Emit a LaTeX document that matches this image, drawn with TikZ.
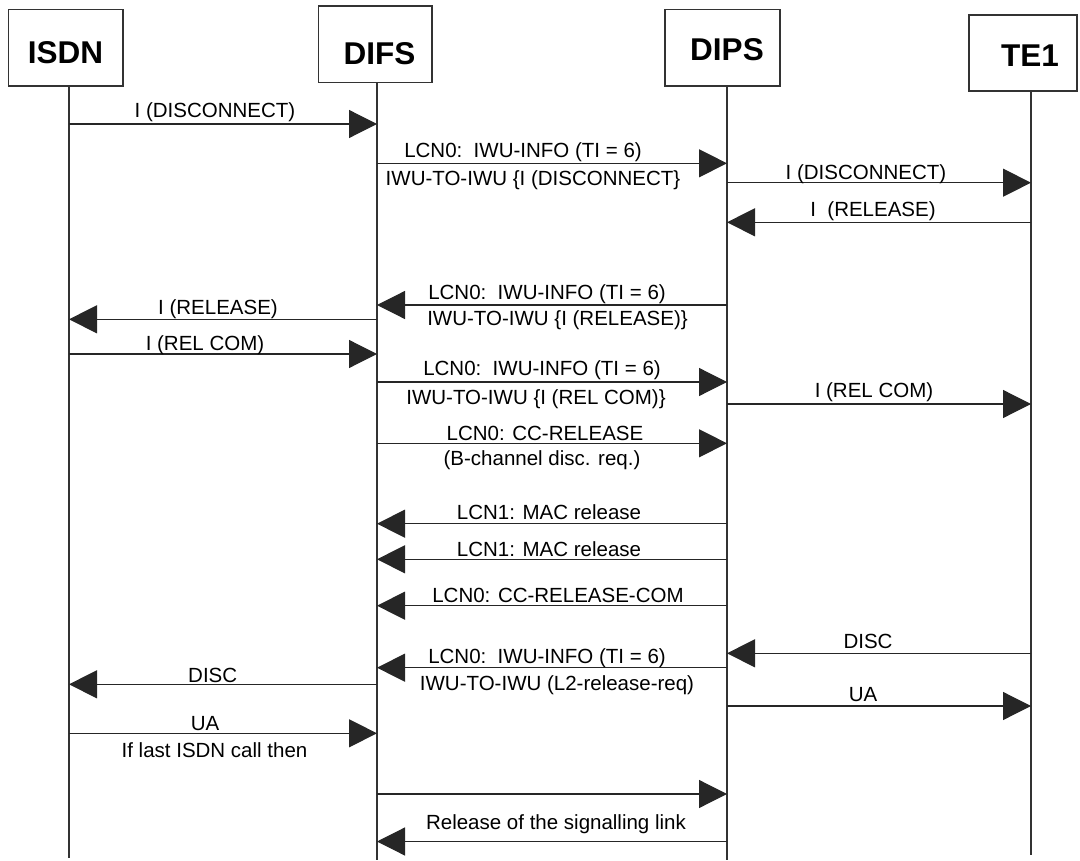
\documentclass[tikz,border=0pt]{standalone}
\usepackage{fontspec}
\setmainfont{Liberation Sans}
\usetikzlibrary{arrows.meta}
\newcommand\mymsg[3]{\draw[msg] (#1 |- 0,#3) -- (#2 |- 0,#3);}
\begin{document}
\begin{tikzpicture}[x=1pt,y=-1pt,
  box/.style={draw=black!80,line width=1.3pt,inner sep=0pt},
  hdr/.style={font=\fontsize{31.5}{36}\selectfont\bfseries,inner sep=0pt,anchor=base},
  lbl/.style={font=\fontsize{20.5}{24}\selectfont,inner sep=0pt,anchor=base},
  life/.style={draw=black!80,line width=1.2pt},
  msg/.style={draw=black!85,line width=1.2pt,-{Triangle[length=28pt,width=28pt]}}]
\useasboundingbox (0,0) rectangle (1080,861);
% header boxes
\node[box,minimum width=114.4pt,minimum height=76.7pt] (isdn) at (65.8,47.65) {};
\node[box,minimum width=113.5pt,minimum height=76.7pt] (difs) at (375.25,44.35) {};
\node[box,minimum width=115pt,minimum height=76.7pt] (dips) at (722.5,47.65) {};
\node[box,minimum width=108pt,minimum height=76pt] (te) at (1023,53) {};
\node[hdr] (hisdn) at (65.6,63.3) {ISDN};
\node[hdr] (hdifs) at (379.6,65) {DIFS};
\node[hdr] (hdips) at (727,61) {DIPS};
\node[hdr] (hte) at (1030,66.7) {TE1};
% lifelines
\coordinate (Lisdn) at (69,86);   \coordinate (Bisdn) at (69,858);
\coordinate (Ldifs) at (377,82.7); \coordinate (Bdifs) at (377,860);
\coordinate (Ldips) at (727,86);  \coordinate (Bdips) at (727,860);
\coordinate (Lte) at (1031,91);   \coordinate (Bte) at (1031,855);
\draw[life] (Lisdn) -- (Bisdn);
\draw[life] (Ldifs) -- (Bdifs);
\draw[life] (Ldips) -- (Bdips);
\draw[life] (Lte) -- (Bte);
% messages
\mymsg{Lisdn}{Ldifs}{124}
\node[lbl] (m1) at (215,118) {I (DISCONNECT)};
\mymsg{Ldifs}{Ldips}{163.3}
\node[lbl] (m2a) at (523,158) {LCN0:\ \ IWU-INFO (TI = 6)};
\node[lbl] (m2b) at (533,186) {IWU-TO-IWU \{I (DISCONNECT\}};
\mymsg{Ldips}{Lte}{182.7}
\node[lbl] (m3) at (866,179.5) {I (DISCONNECT)};
\mymsg{Lte}{Ldips}{222.3}
\node[lbl] (m4) at (873,216.5) {I\ \ (RELEASE)};
\mymsg{Ldips}{Ldifs}{305}
\node[lbl] (m5a) at (547,300) {LCN0:\ \ IWU-INFO (TI = 6)};
\node[lbl] (m5b) at (557.5,326) {IWU-TO-IWU \{I (RELEASE)\}};
\mymsg{Ldifs}{Lisdn}{319.3}
\node[lbl] (m6) at (218,315) {I (RELEASE)};
\mymsg{Lisdn}{Ldifs}{354}
\node[lbl] (m7) at (205,350) {I (REL COM)};
\mymsg{Ldifs}{Ldips}{382}
\node[lbl] (m8a) at (542,375) {LCN0:\ \ IWU-INFO (TI = 6)};
\node[lbl] (m8b) at (536,404) {IWU-TO-IWU \{I (REL COM)\}};
\mymsg{Ldips}{Lte}{404}
\node[lbl] (m9) at (874,397) {I (REL COM)};
\mymsg{Ldifs}{Ldips}{443.3}
\node[lbl] (m10a) at (545,440) {LCN0: CC-RELEASE};
\node[lbl] (m10b) at (542,465.5) {(B-channel disc. req.)};
\mymsg{Ldips}{Ldifs}{523.7}
\node[lbl] (m11) at (549,519) {LCN1: MAC release};
\mymsg{Ldips}{Ldifs}{559.3}
\node[lbl] (m12) at (549,556) {LCN1: MAC release};
\mymsg{Ldips}{Ldifs}{605.7}
\node[lbl] (m13) at (558,602.5) {LCN0: CC-RELEASE-COM};
\mymsg{Lte}{Ldips}{653.3}
\node[lbl] (m14) at (868,648.3) {DISC};
\mymsg{Ldips}{Ldifs}{667.7}
\node[lbl] (m15a) at (547,663.5) {LCN0:\ \ IWU-INFO (TI = 6)};
\node[lbl] (m15b) at (557,690) {IWU-TO-IWU (L2-release-req)};
\mymsg{Ldifs}{Lisdn}{684.3}
\node[lbl] (m16) at (212.7,682) {DISC};
\mymsg{Ldips}{Lte}{706}
\node[lbl] (m17) at (863,701.7) {UA};
\mymsg{Lisdn}{Ldifs}{733.3}
\node[lbl] (m18a) at (205,730) {UA};
\node[lbl] (m18b) at (214.5,757) {If last ISDN call then};
\mymsg{Ldifs}{Ldips}{794}
\mymsg{Ldips}{Ldifs}{841.5}
\node[lbl] (m20) at (556,829) {Release of the signalling link};
\end{tikzpicture}
\end{document}
